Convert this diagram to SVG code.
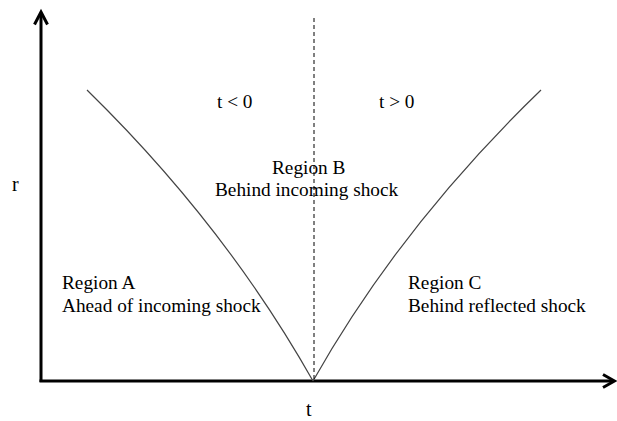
<svg xmlns="http://www.w3.org/2000/svg" width="617" height="421" viewBox="0 0 617 421">
<style>
.axis{stroke:#000;stroke-width:3;fill:none}
.head{stroke:#000;stroke-width:3;fill:none;stroke-linejoin:miter}
.shock{stroke:#444;stroke-width:1.2;fill:none}
.dash{stroke:#000;stroke-width:1;stroke-dasharray:4,3;fill:none}
text{font-family:"Liberation Serif","Times New Roman",serif;font-size:19.3px;fill:#000}
.ax{font-size:20px}
</style>
<rect width="617" height="421" fill="#fff"/>
<g id="axes">
<line class="axis" x1="41" y1="382" x2="41" y2="13"/>
<path class="head" d="M34.5,24.5 L41,12 L47.5,24.5"/>
<line class="axis" x1="39.5" y1="381" x2="613" y2="381"/>
<path class="head" d="M603,374.5 L614.5,381 L603,387.5"/>
<text class="ax" x="12" y="191">r</text>
<text class="ax" x="306" y="416">t</text>
</g>
<g id="connectors">
<path id="incoming-shock" class="shock" d="M87,90 Q225,225 313,381"/>
<path id="reflected-shock" class="shock" d="M313,381 Q401,225 541,90"/>
<line id="t0-line" class="dash" x1="314" y1="18" x2="314" y2="381"/>
</g>
<g id="labels">
<text x="217" y="108">t &lt; 0</text>
<text x="379" y="108">t &gt; 0</text>
</g>
<g id="region-a">
<text x="62" y="289">Region A</text>
<text x="62" y="312">Ahead of incoming shock</text>
</g>
<g id="region-b">
<text x="272" y="174">Region B</text>
<text x="215" y="196">Behind incoming shock</text>
</g>
<g id="region-c">
<text x="408" y="289">Region C</text>
<text x="408" y="312">Behind reflected shock</text>
</g>
</svg>
